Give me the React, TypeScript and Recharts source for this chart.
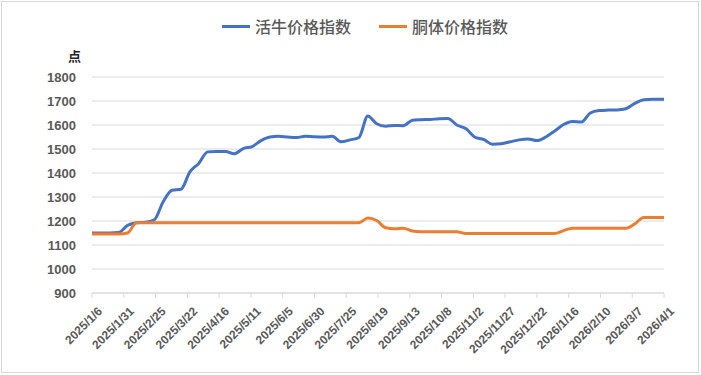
import React from "react"
import { LineChart, Line, XAxis, YAxis, CartesianGrid } from "recharts"

const dates = [
  "2025/1/6", "2025/1/13", "2025/1/20", "2025/1/27", "2025/2/3", "2025/2/10", "2025/2/17", "2025/2/24",
  "2025/3/3", "2025/3/10", "2025/3/17", "2025/3/24", "2025/3/31", "2025/4/7", "2025/4/14", "2025/4/21",
  "2025/4/28", "2025/5/5", "2025/5/12", "2025/5/19", "2025/5/26", "2025/6/2", "2025/6/9", "2025/6/16",
  "2025/6/23", "2025/6/30", "2025/7/7", "2025/7/14", "2025/7/21", "2025/7/28", "2025/8/4", "2025/8/11",
  "2025/8/18", "2025/8/25", "2025/9/1", "2025/9/8", "2025/9/15", "2025/9/22", "2025/9/29", "2025/10/6",
  "2025/10/13", "2025/10/20", "2025/10/27", "2025/11/3", "2025/11/10", "2025/11/17", "2025/11/24", "2025/12/1",
  "2025/12/8", "2025/12/15", "2025/12/22", "2025/12/29", "2026/1/5", "2026/1/12", "2026/1/19", "2026/1/26",
  "2026/2/2", "2026/2/9", "2026/2/16", "2026/2/23", "2026/3/2", "2026/3/9", "2026/3/16", "2026/3/23",
  "2026/3/30", "2026/4/1",
]

// 活牛价格指数
const cattle = [
  1150, 1150, 1150, 1152, 1182, 1193, 1195, 1205,
  1280, 1328, 1332, 1405, 1440, 1488, 1490, 1490,
  1480, 1502, 1510, 1535, 1550, 1553, 1550, 1548,
  1553, 1551, 1550, 1553, 1530, 1538, 1548, 1638,
  1605, 1595, 1598, 1597, 1620, 1622, 1623, 1626,
  1627, 1600, 1585, 1550, 1540, 1520, 1522, 1530,
  1538, 1542, 1535, 1550, 1575, 1602, 1615, 1612,
  1650, 1660, 1662, 1663, 1668, 1690, 1705, 1707,
  1707, 1707,
]

// 胴体价格指数
const carcass = [
  1146, 1146, 1146, 1146, 1150, 1193, 1193, 1193,
  1193, 1193, 1193, 1193, 1193, 1193, 1193, 1193,
  1193, 1193, 1193, 1193, 1193, 1193, 1193, 1193,
  1193, 1193, 1193, 1193, 1193, 1193, 1193, 1212,
  1202, 1172, 1168, 1170, 1158, 1155, 1155, 1155,
  1155, 1155, 1148, 1148, 1148, 1148, 1148, 1148,
  1148, 1148, 1148, 1148, 1148, 1160, 1170, 1170,
  1170, 1170, 1170, 1170, 1170, 1188, 1215, 1215,
  1215, 1215,
]

const tickLabels = [
  "2025/1/6", "2025/1/31", "2025/2/25", "2025/3/22", "2025/4/16", "2025/5/11", "2025/6/5",
  "2025/6/30", "2025/7/25", "2025/8/19", "2025/9/13", "2025/10/8", "2025/11/2", "2025/11/27",
  "2025/12/22", "2026/1/16", "2026/2/10", "2026/3/7", "2026/4/1",
]

const yTicks = [900, 1000, 1100, 1200, 1300, 1400, 1500, 1600, 1700, 1800]

const FONT = '"Liberation Sans", Arial, "Noto Sans CJK SC", sans-serif'
const BLUE = "#4472C4"
const ORANGE = "#ED7D31"

const toDay = (s: string) => {
  const [y, m, d] = s.split("/").map(Number)
  return Math.round((Date.UTC(y, m - 1, d) - Date.UTC(2025, 0, 6)) / 86400000)
}

const data = dates.map((d, i) => ({ day: toDay(d), cattle: cattle[i], carcass: carcass[i] }))
const tickDays = tickLabels.map(toDay)
const labelOf = (day: number) => tickLabels[tickDays.indexOf(day)] ?? ""

const DateTick = (props: any) => {
  const { x, y, payload } = props
  return (
    <text
      transform={`translate(${x + 5},${y + 6}) rotate(-45)`}
      textAnchor="end"
      fontSize={12}
      fontWeight="bold"
      fill="#595959"
      fontFamily={FONT}
      dy="0.7em"
    >
      {labelOf(payload.value)}
    </text>
  )
}

const series = [
  { name: "活牛价格指数", color: BLUE },
  { name: "胴体价格指数", color: ORANGE },
]

export default function App() {
  return (
    <div style={{ position: "absolute", left: 0, top: 0, width: 701, height: 375, background: "#fff" }}>
      <div style={{ position: "absolute", left: 1, top: 1, width: 696, height: 370, border: "1px solid #d9d9d9" }} />
      <div style={{ position: "absolute", left: 222, top: 14, display: "flex", gap: 28, fontFamily: FONT, fontSize: 16, fontWeight: 500, color: "#595959" }}>
        {series.map((s) => (
          <div key={s.name} style={{ display: "flex", alignItems: "center" }}>
            <span style={{ display: "inline-block", width: 28, height: 3, background: s.color, marginRight: 5 }} />
            <span>{s.name}</span>
          </div>
        ))}
      </div>
      <div style={{ position: "absolute", left: 68, top: 46, fontFamily: FONT, fontSize: 13, fontWeight: "bold", color: "#262626" }}>点</div>
      <div style={{ position: "absolute", left: 0, top: 0 }}>
        <LineChart width={701} height={375} data={data} margin={{ top: 77, right: 37, left: 0, bottom: 7 }}>
          <CartesianGrid vertical={false} stroke="#d9d9d9" />
          <XAxis
            dataKey="day"
            type="number"
            domain={[0, 450]}
            ticks={tickDays}
            interval={0}
            stroke="#d9d9d9"
            tickLine={{ stroke: "#d9d9d9" }}
            tickSize={5}
            height={75}
            tick={<DateTick />}
          />
          <YAxis
            domain={[900, 1800]}
            ticks={yTicks}
            width={92}
            axisLine={false}
            tickLine={false}
            tick={{ fill: "#595959", fontSize: 13, fontWeight: "bold", fontFamily: FONT }}
            tickMargin={10}
          />
          <Line type="monotone" dataKey="cattle" stroke={BLUE} strokeWidth={3} dot={false} isAnimationActive={false} />
          <Line type="monotone" dataKey="carcass" stroke={ORANGE} strokeWidth={3} dot={false} isAnimationActive={false} />
        </LineChart>
      </div>
    </div>
  )
}
